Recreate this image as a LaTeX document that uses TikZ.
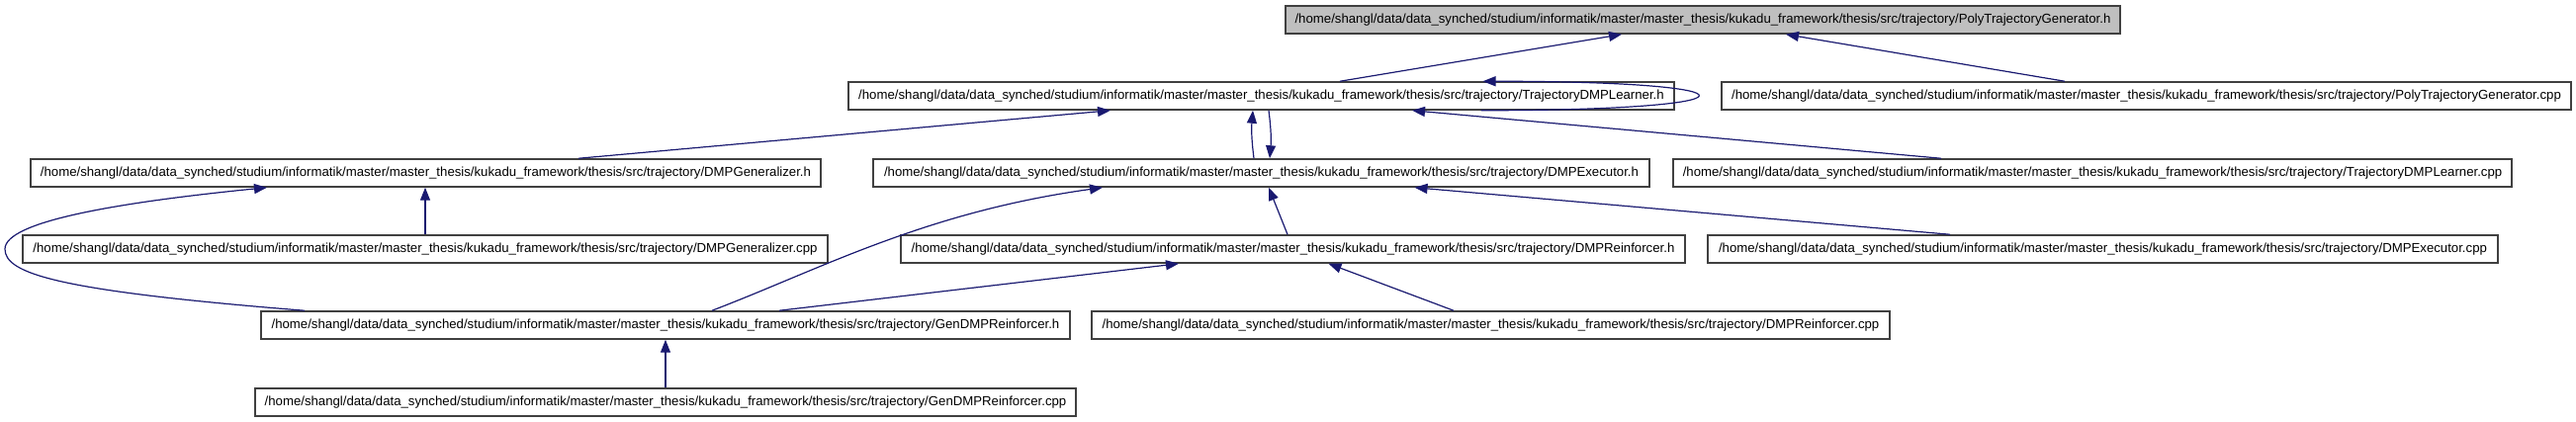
\documentclass[tikz,border=0pt]{standalone}
\usepackage{fontspec}
\setmainfont{Liberation Sans}
\usetikzlibrary{arrows.meta}
\definecolor{edgeblue}{RGB}{25,25,112}
\definecolor{boxline}{RGB}{64,64,64}
\newcommand{\trajdir}{/home/shangl/data/data\_synched/studium/informatik/master/master\_thesis/kukadu\_framework/thesis/src/trajectory/}

\begin{document}
\begin{tikzpicture}[
    x=1pt, y=-1pt,
    file/.style={draw=boxline, line width=1.5pt, fill=white, minimum height=28pt, inner sep=0pt,
      font=\fontsize{13.2}{15}\selectfont},
    current/.style={file, fill=black!25},
    inc/.style={draw=edgeblue, line width=1.2pt, -{Triangle[length=13pt,width=10pt]}, edgeblue}
  ]
    \useasboundingbox (0,0) rectangle (2605,427);

    \node[current, minimum width=844pt] (pgh) at (1722,20) {\trajdir PolyTrajectoryGenerator.h};
    \node[file, minimum width=835pt] (tdlh) at (1275.5,97) {\trajdir TrajectoryDMPLearner.h};
    \node[file, minimum width=859pt] (pgcpp) at (2170.5,97) {\trajdir PolyTrajectoryGenerator.cpp};
    \node[file, minimum width=799pt] (dgh) at (430.5,175) {\trajdir DMPGeneralizer.h};
    \node[file, minimum width=785pt] (deh) at (1275.5,175) {\trajdir DMPExecutor.h};
    \node[file, minimum width=848pt] (tdlcpp) at (2116,175) {\trajdir TrajectoryDMPLearner.cpp};
    \node[file, minimum width=814pt] (dgcpp) at (430,252) {\trajdir DMPGeneralizer.cpp};
    \node[file, minimum width=793pt] (drh) at (1307.5,252) {\trajdir DMPReinforcer.h};
    \node[file, minimum width=799pt] (decpp) at (2126.5,252) {\trajdir DMPExecutor.cpp};
    \node[file, minimum width=818pt] (gdrh) at (673,329) {\trajdir GenDMPReinforcer.h};
    \node[file, minimum width=807pt] (drcpp) at (1507.5,329) {\trajdir DMPReinforcer.cpp};
    \node[file, minimum width=830pt] (gdrcpp) at (673,407) {\trajdir GenDMPReinforcer.cpp};

    \draw[inc] ([xshift=79.5pt]tdlh.north) -- ([xshift=-82pt]pgh.south);
    \draw[inc] ([xshift=-82.5pt]pgcpp.north) -- ([xshift=84pt]pgh.south);
    \draw[inc] ([xshift=222pt]tdlh.south) .. controls +(292,0) and +(290,0) .. ([xshift=224pt]tdlh.north);
    \draw[inc] ([xshift=154.5pt]dgh.north) -- ([xshift=-152.5pt]tdlh.south);
    \draw[inc] ([xshift=-7.5pt]deh.north) to[bend left=6] ([xshift=-8.5pt]tdlh.south);
    \draw[inc] ([xshift=7.5pt]tdlh.south) to[bend left=6] ([xshift=8.5pt]deh.north);
    \draw[inc] ([xshift=-153pt]tdlcpp.north) -- ([xshift=152.5pt]tdlh.south);
    \draw[inc] (dgcpp.north) -- (dgcpp.north |- dgh.south);
    \draw[inc] ([xshift=-365pt]gdrh.north) .. controls +(-250,-20) and +(0,25) .. (5,252)
      .. controls +(0,-28) and +(-150,15) .. ([xshift=-160.5pt]dgh.south);
    \draw[inc] ([xshift=47pt]gdrh.north) .. controls +(110,-42) and +(-180,25) .. ([xshift=-160.5pt]deh.south);
    \draw[inc] ([xshift=115pt]gdrh.north) -- ([xshift=-115.5pt]drh.south);
    \draw[inc] ([xshift=-5.5pt]drh.north) -- ([xshift=7.5pt]deh.south);
    \draw[inc] ([xshift=-154.5pt]decpp.north) -- ([xshift=155pt]deh.south);
    \draw[inc] ([xshift=-37.5pt]drcpp.north) -- ([xshift=36pt]drh.south);
    \draw[inc] (gdrcpp.north) -- (gdrcpp.north |- gdrh.south);
  \end{tikzpicture}
\end{document}
